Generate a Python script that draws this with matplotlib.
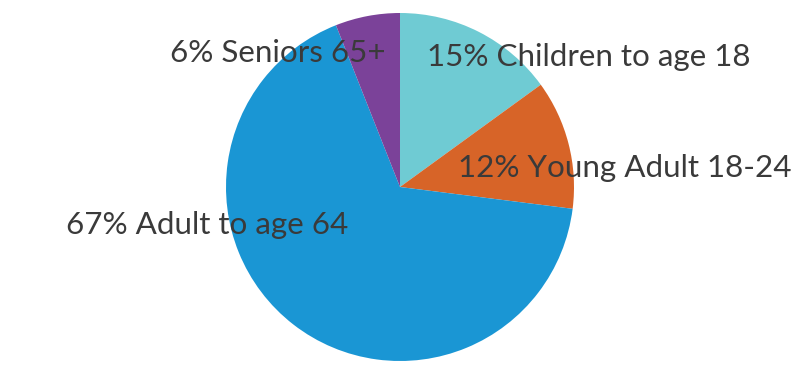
import matplotlib
matplotlib.use("Agg")
import matplotlib.pyplot as plt

labels = ["15% Children to age 18", "12% Young Adult 18-24",
          "67% Adult to age 64", "6% Seniors 65+"]
shares = [15, 12, 67, 6]
colors = ["#6fcbd3", "#d76428", "#1a96d4", "#7b4299"]

# label anchor points (left edge, vertical centre) in pixel space
label_x = [427, 458, 66, 170]
label_y = [57, 168, 225, 53]

W, H = 800, 365
fig = plt.figure(figsize=(W / 100, H / 100), dpi=100)
ax = fig.add_axes([0, 0, 1, 1])

ax.pie(shares, colors=colors, startangle=90, counterclock=False,
       center=(400, H - 187), radius=174, frame=True)
ax.set_xlim(0, W)
ax.set_ylim(0, H)
ax.set_aspect("equal")
ax.axis("off")

for lab, x, y in zip(labels, label_x, label_y):
    ax.text(x, H - y, lab, ha="left", va="center", fontsize=22.6,
            family="Lato", color="#3a3a3a")

fig.savefig("out.png", dpi=100)
